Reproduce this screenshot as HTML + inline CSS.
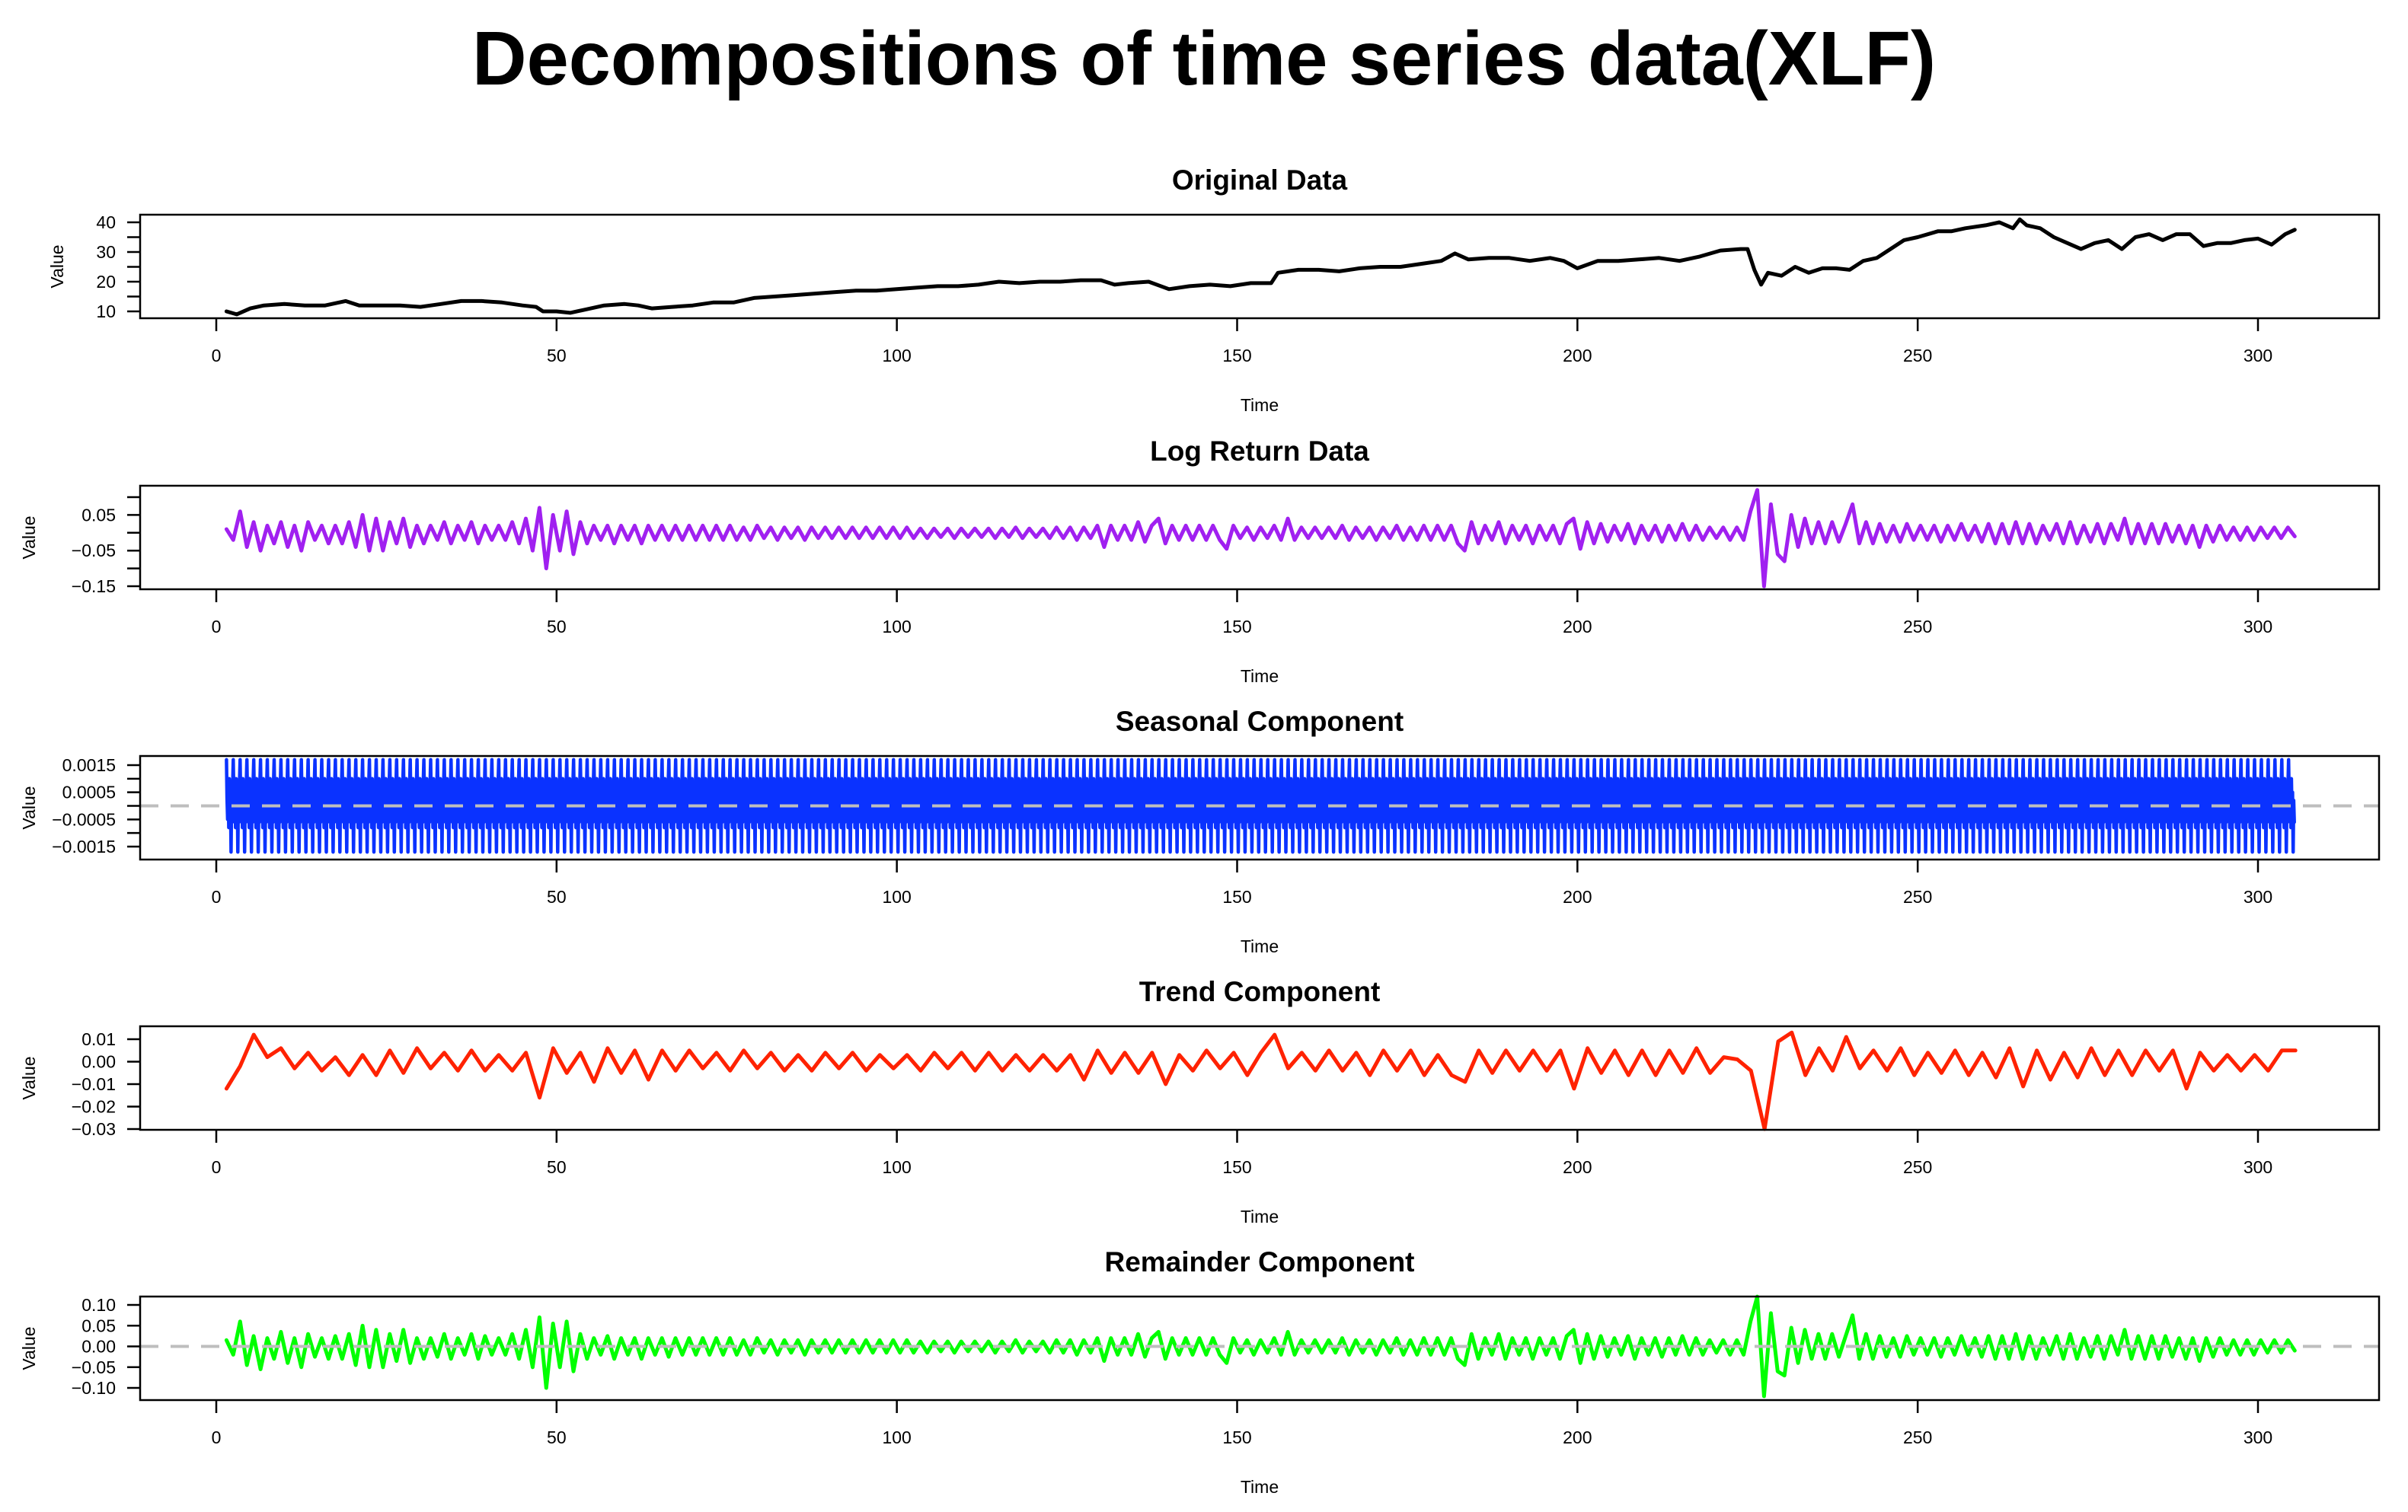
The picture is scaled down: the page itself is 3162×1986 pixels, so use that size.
<!DOCTYPE html>
<html><head><meta charset="utf-8"><style>
html,body{margin:0;padding:0;background:#fff;}
svg{display:block;font-family:"Liberation Sans",Arial,sans-serif;}
</style></head><body>
<svg id="fig" width="3162" height="1986" viewBox="0 0 3162 1986" xmlns="http://www.w3.org/2000/svg">
<text x="1581" y="111" text-anchor="middle" font-weight="bold" font-size="100" textLength="1922" lengthAdjust="spacingAndGlyphs">Decompositions of time series data(XLF)</text>
</svg>
<script>
const xTicks = [0,50,100,150,200,250,300];
const originalT = [1.5,3,5,7,10,13,16,19,21,24,27,30,33,36,39,42,45,47,48,50,52,54,57,60,62,64,67,70,73,76,79,82,85,88,91,94,97,100,103,106,109,112,115,118,121,124,127,130,132,134,137,140,143,146,149,152,155,156,159,162,165,168,171,174,177,180,182,184,187,190,193,196,198,200,203,206,209,212,215,218,221,224,225,226,227,228,230,232,234,236,238,240,242,244,246,248,250,253,255,257,260,262,264,265,266,268,270,272,274,276,278,280,282,284,286,288,290,292,294,296,298,300,302,304,305.4];
const originalV = [10,9,11,12,12.5,12,12,13.5,12,12,12,11.5,12.5,13.5,13.5,13,12,11.5,10,10,9.5,10.5,12,12.5,12,11,11.5,12,13,13,14.5,15,15.5,16,16.5,17,17,17.5,18,18.5,18.5,19,20,19.5,20,20,20.5,20.5,19,19.5,20,17.5,18.5,19,18.5,19.5,19.5,23,24,24,23.5,24.5,25,25,26,27,29.5,27.5,28,28,27,28,27,24.5,27,27,27.5,28,27,28.5,30.5,31,31,24,19,23,22,25,23,24.5,24.5,24,27,28,31,34,35,37,37,38,39,40,38,41,39,38,35,33,31,33,34,31,35,36,34,36,36,32,33,33,34,34.5,32.5,36,37.5];
const logReturn = [0.01,-0.02,0.06,-0.04,0.03,-0.05,0.02,-0.03,0.03,-0.04,
0.02,-0.05,0.03,-0.02,0.02,-0.03,0.02,-0.03,0.03,-0.04,
0.05,-0.05,0.04,-0.05,0.03,-0.03,0.04,-0.04,0.02,-0.03,
0.02,-0.02,0.03,-0.03,0.02,-0.02,0.03,-0.03,0.02,-0.02,
0.02,-0.02,0.03,-0.03,0.04,-0.05,0.07,-0.10,0.05,-0.05,
0.06,-0.06,0.03,-0.03,0.02,-0.02,0.02,-0.03,0.02,-0.02,
0.02,-0.03,0.02,-0.02,0.02,-0.02,0.02,-0.02,0.02,-0.02,
0.02,-0.02,0.02,-0.02,0.02,-0.02,0.015,-0.02,0.02,-0.015,
0.015,-0.02,0.015,-0.015,0.015,-0.02,0.015,-0.015,0.015,-0.015,
0.015,-0.015,0.015,-0.015,0.015,-0.015,0.015,-0.015,0.015,-0.015,
0.015,-0.015,0.012,-0.015,0.012,-0.012,0.012,-0.015,0.012,-0.012,
0.012,-0.012,0.012,-0.015,0.012,-0.012,0.015,-0.015,0.012,-0.012,
0.012,-0.015,0.015,-0.015,0.015,-0.02,0.015,-0.015,0.02,-0.04,
0.02,-0.02,0.02,-0.02,0.03,-0.025,0.02,0.04,-0.03,0.02,
-0.02,0.02,-0.02,0.02,-0.02,0.02,-0.02,-0.045,0.02,-0.015,
0.015,-0.02,0.015,-0.015,0.02,-0.02,0.04,-0.02,0.015,-0.015,
0.015,-0.015,0.015,-0.015,0.02,-0.02,0.015,-0.015,0.015,-0.02,
0.015,-0.015,0.02,-0.02,0.015,-0.02,0.02,-0.02,0.02,-0.02,
0.02,-0.03,-0.05,0.03,-0.03,0.02,-0.02,0.03,-0.03,0.02,
-0.02,0.02,-0.03,0.02,-0.02,0.02,-0.03,0.025,0.04,-0.045,
0.03,-0.03,0.025,-0.025,0.02,-0.02,0.025,-0.03,0.02,-0.02,
0.02,-0.025,0.02,-0.02,0.025,-0.02,0.02,-0.02,0.015,-0.015,
0.015,-0.02,0.015,-0.02,0.06,0.12,-0.15,0.08,-0.06,-0.08,
0.05,-0.04,0.04,-0.03,0.03,-0.03,0.03,-0.025,0.025,0.08,
-0.03,0.03,-0.03,0.025,-0.025,0.02,-0.025,0.025,-0.02,0.02,
-0.02,0.02,-0.025,0.02,-0.02,0.025,-0.02,0.02,-0.025,0.025,
-0.03,0.025,-0.03,0.03,-0.03,0.025,-0.03,0.02,-0.02,0.025,
-0.03,0.03,-0.03,0.02,-0.025,0.025,-0.03,0.025,-0.02,0.04,
-0.03,0.025,-0.03,0.025,-0.03,0.025,-0.025,0.02,-0.03,0.02,
-0.04,0.02,-0.025,0.02,-0.02,0.015,-0.02,0.015,-0.02,0.015,
-0.015,0.015,-0.015,0.015,-0.01];
const remainder = [0.015,-0.02,0.06,-0.045,0.025,-0.055,0.02,-0.03,0.035,-0.04,
0.02,-0.05,0.03,-0.025,0.02,-0.03,0.025,-0.03,0.03,-0.045,
0.05,-0.05,0.04,-0.05,0.03,-0.035,0.04,-0.04,0.02,-0.03,
0.02,-0.025,0.03,-0.03,0.02,-0.02,0.03,-0.03,0.025,-0.02,
0.02,-0.02,0.03,-0.03,0.04,-0.05,0.07,-0.10,0.055,-0.05,
0.06,-0.06,0.03,-0.03,0.02,-0.02,0.025,-0.03,0.02,-0.02,
0.02,-0.03,0.02,-0.02,0.02,-0.025,0.02,-0.02,0.02,-0.02,
0.02,-0.02,0.02,-0.02,0.02,-0.02,0.015,-0.02,0.02,-0.015,
0.015,-0.02,0.015,-0.015,0.015,-0.02,0.015,-0.015,0.015,-0.015,
0.015,-0.015,0.015,-0.015,0.015,-0.015,0.015,-0.015,0.015,-0.015,
0.015,-0.015,0.012,-0.015,0.012,-0.012,0.012,-0.015,0.012,-0.012,
0.012,-0.012,0.012,-0.015,0.012,-0.012,0.015,-0.015,0.012,-0.012,
0.012,-0.015,0.015,-0.015,0.015,-0.02,0.015,-0.015,0.02,-0.035,
0.02,-0.02,0.02,-0.02,0.03,-0.025,0.02,0.035,-0.03,0.02,
-0.02,0.02,-0.02,0.02,-0.02,0.02,-0.02,-0.04,0.02,-0.015,
0.015,-0.02,0.015,-0.015,0.02,-0.02,0.035,-0.02,0.015,-0.015,
0.015,-0.015,0.015,-0.015,0.02,-0.02,0.015,-0.015,0.015,-0.02,
0.015,-0.015,0.02,-0.02,0.015,-0.02,0.02,-0.02,0.02,-0.02,
0.02,-0.03,-0.045,0.03,-0.03,0.02,-0.02,0.03,-0.03,0.02,
-0.02,0.02,-0.03,0.02,-0.02,0.02,-0.03,0.025,0.04,-0.04,
0.03,-0.03,0.025,-0.025,0.02,-0.02,0.025,-0.03,0.02,-0.02,
0.02,-0.025,0.02,-0.02,0.025,-0.02,0.02,-0.02,0.015,-0.015,
0.015,-0.02,0.015,-0.02,0.06,0.12,-0.12,0.08,-0.06,-0.07,
0.045,-0.04,0.04,-0.03,0.03,-0.03,0.03,-0.025,0.025,0.075,
-0.03,0.03,-0.03,0.025,-0.025,0.02,-0.025,0.025,-0.02,0.02,
-0.02,0.02,-0.025,0.02,-0.02,0.025,-0.02,0.02,-0.025,0.025,
-0.03,0.025,-0.03,0.03,-0.03,0.025,-0.03,0.02,-0.02,0.025,
-0.03,0.03,-0.03,0.02,-0.025,0.025,-0.03,0.025,-0.02,0.04,
-0.03,0.025,-0.03,0.025,-0.03,0.025,-0.025,0.02,-0.03,0.02,
-0.035,0.02,-0.025,0.02,-0.02,0.015,-0.02,0.015,-0.02,0.015,
-0.015,0.015,-0.015,0.015,-0.01];
const trend = [-0.012,-0.002,0.012,0.002,0.006,-0.003,0.004,-0.004,0.002,-0.006,
0.003,-0.006,0.005,-0.005,0.006,-0.003,0.004,-0.004,0.005,-0.004,
0.003,-0.004,0.004,-0.016,0.006,-0.005,0.004,-0.009,0.006,-0.005,
0.005,-0.008,0.005,-0.004,0.005,-0.003,0.004,-0.004,0.005,-0.003,
0.004,-0.004,0.003,-0.004,0.004,-0.003,0.004,-0.004,0.003,-0.003,
0.003,-0.004,0.004,-0.003,0.004,-0.004,0.004,-0.004,0.003,-0.004,
0.003,-0.004,0.003,-0.008,0.005,-0.005,0.004,-0.005,0.004,-0.01,
0.003,-0.004,0.005,-0.003,0.004,-0.006,0.004,0.012,-0.003,0.004,
-0.004,0.005,-0.004,0.004,-0.006,0.005,-0.004,0.005,-0.006,0.003,
-0.006,-0.009,0.005,-0.005,0.005,-0.004,0.005,-0.004,0.005,-0.012,
0.006,-0.005,0.005,-0.006,0.005,-0.006,0.005,-0.005,0.006,-0.005,
0.002,0.001,-0.004,-0.03,0.009,0.013,-0.006,0.006,-0.004,0.011,
-0.003,0.005,-0.004,0.006,-0.006,0.004,-0.005,0.005,-0.006,0.004,
-0.007,0.006,-0.011,0.005,-0.008,0.004,-0.007,0.006,-0.006,0.005,
-0.006,0.005,-0.004,0.005,-0.012,0.004,-0.004,0.003,-0.004,0.003,
-0.004,0.005,0.005];
const seasonalCycle = [0.0017,0.0003,-0.0005,0.0008,-0.0008,0.0010,-0.0003,0.0005,-0.0017,0.0002,-0.0006,0.0009];
const seriesStart = 1.5, seriesEnd = 305.4, trendStep = 2;

const NS = 'http://www.w3.org/2000/svg';
const svg = document.getElementById('fig');
const BOX_L = 184, BOX_R = 3124, H = 136;
function xs(t){ return 284 + (t - 0) * (2965 - 284) / 300; }
function mk(tag, attrs, parent){ const e = document.createElementNS(NS, tag); for (const k in attrs) e.setAttribute(k, attrs[k]); (parent||svg).appendChild(e); return e; }
function fmt(v, d){ const s = Math.abs(v).toFixed(d); return v < 0 ? '\u2212' + s : s; }

const panels = [
 {key:'original', title:'Original Data', top:282, v1:10, p1:409, v2:40, p2:292, ticks:[10,15,20,25,30,35,40], labels:[10,20,30,40], dec:0, color:'#000000', ylabX:75, dashed:false},
 {key:'log-return', title:'Log Return Data', top:638, v1:0.10, p1:653, v2:-0.15, p2:770, ticks:[0.10,0.05,0,-0.05,-0.10,-0.15], labels:[0.05,-0.05,-0.15], dec:2, color:'#A020F0', ylabX:38, dashed:false},
 {key:'seasonal', title:'Seasonal Component', top:993, v1:0.0015, p1:1005, v2:-0.0015, p2:1112, ticks:[0.0015,0.001,0.0005,0,-0.0005,-0.001,-0.0015], labels:[0.0015,0.0005,-0.0005,-0.0015], dec:4, color:'#0A32FF', ylabX:38, dashed:true},
 {key:'trend', title:'Trend Component', top:1348, v1:0.01, p1:1365, v2:-0.03, p2:1483, ticks:[0.01,0,-0.01,-0.02,-0.03], labels:[0.01,0,-0.01,-0.02,-0.03], dec:2, color:'#FF2200', ylabX:38, dashed:false},
 {key:'remainder', title:'Remainder Component', top:1703, v1:0.10, p1:1714, v2:-0.10, p2:1823, ticks:[0.10,0.05,0,-0.05,-0.10], labels:[0.10,0.05,0,-0.05,-0.10], dec:2, color:'#00FF00', ylabX:38, dashed:true}
];

panels.forEach(p => {
  const ys = v => p.p1 + (v - p.v1) * (p.p2 - p.p1) / (p.v2 - p.v1);
  const g = mk('g', {});
  
  
  const bottom = p.top + H;
  // series points
  let pts = [];
  if (p.key === 'original') originalT.forEach((t,i) => pts.push([xs(t), ys(originalV[i])]));
  else if (p.key === 'log-return') logReturn.forEach((v,i) => pts.push([xs(seriesStart + i * (seriesEnd - seriesStart) / (logReturn.length - 1)), ys(v)]));
  else if (p.key === 'remainder') remainder.forEach((v,i) => pts.push([xs(seriesStart + i * (seriesEnd - seriesStart) / (remainder.length - 1)), ys(v)]));
  else if (p.key === 'trend') trend.forEach((v,i) => pts.push([xs(seriesStart + i * trendStep), ys(v)]));
  else if (p.key === 'seasonal') {
    const n = seasonalCycle.length;
    for (let t = seriesStart, k = 0; t <= seriesEnd; k++, t = seriesStart + k / n) pts.push([xs(t), ys(seasonalCycle[k % n])]);
  }
  const line = mk('polyline', {points: pts.map(q => q[0].toFixed(1) + ',' + q[1].toFixed(1)).join(' '), fill:'none', stroke:p.color, 'stroke-width': p.key === 'seasonal' ? 4.5 : 5, 'stroke-linejoin':'round', 'stroke-linecap':'round'}, g);
  
  
  if (p.dashed) {
    const d = mk('line', {x1:BOX_L, x2:BOX_R, y1:ys(0), y2:ys(0), stroke:'#BEBEBE', 'stroke-width':4, 'stroke-dasharray':'24,16'}, g);
    
    
  }
  const box = mk('rect', {x:BOX_L, y:p.top, width:BOX_R - BOX_L, height:H, fill:'none', stroke:'#000', 'stroke-width':2.5}, g);
  
  
  // title
  const tt = mk('text', {x:(BOX_L + BOX_R) / 2, y:p.top - 33, 'text-anchor':'middle', 'font-weight':'bold', 'font-size':37}, g);
  tt.textContent = p.title;
  
  
  // x ticks
  xTicks.forEach(v => {
    const tk = mk('line', {x1:xs(v), x2:xs(v), y1:bottom, y2:bottom + 17, stroke:'#000', 'stroke-width':2.5}, g);
    
    
    const lb = mk('text', {x:xs(v), y:bottom + 57, 'text-anchor':'middle', 'font-size':23}, g);
    lb.textContent = String(v);
    
    
  });
  const xl = mk('text', {x:(BOX_L + BOX_R) / 2, y:bottom + 122, 'text-anchor':'middle', 'font-size':23}, g);
  xl.textContent = 'Time';
  
  
  // y ticks
  p.ticks.forEach(v => {
    const tk = mk('line', {x1:BOX_L - 17, x2:BOX_L, y1:ys(v), y2:ys(v), stroke:'#000', 'stroke-width':2.5}, g);
    
    
  });
  p.labels.forEach(v => {
    const lb = mk('text', {x:152, y:ys(v) + 8, 'text-anchor':'end', 'font-size':23}, g);
    lb.textContent = fmt(v, p.dec);
    
    
  });
  const cy = p.top + H / 2;
  const yl = mk('text', {x:p.ylabX, y:cy, 'text-anchor':'middle', 'font-size':23, transform:'rotate(-90 ' + p.ylabX + ' ' + cy + ')', dy:'0.35em'}, g);
  yl.textContent = 'Value';
  
  
});
</script>
</body></html>
